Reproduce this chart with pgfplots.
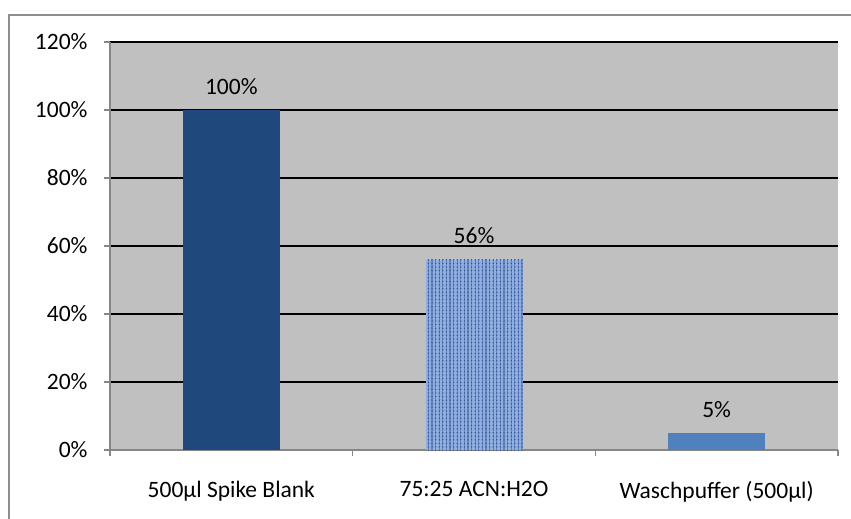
\documentclass[border=0pt]{standalone}
\usepackage{fontspec}
\setmainfont{Carlito}
\usepackage{pgfplots}
\pgfplotsset{compat=1.18}
\usetikzlibrary{patterns,patterns.meta}
\definecolor{bgc}{HTML}{C0C0C0}
\definecolor{barA}{HTML}{1F497D}
\definecolor{barB}{HTML}{8FADDE}
\definecolor{barBm}{HTML}{6686C0}
\definecolor{barBd}{HTML}{2F5592}
\definecolor{barC}{HTML}{4F81BD}
\definecolor{axc}{HTML}{868686}
\definecolor{brd}{HTML}{8E8E8E}
\begin{document}
\begin{tikzpicture}
\path[use as bounding box] (-110pt,-69pt) rectangle (741pt,450pt);
\draw[brd, line width=1.5pt] (-101pt,-90pt) -- (-101pt,435pt) -- (760pt,435pt);
\begin{axis}[
 at={(0pt,0pt)}, anchor=south west,
 scale only axis, width=728pt, height=408pt,
 xmin=-0.5, xmax=2.5, ymin=0, ymax=120,
 enlargelimits=false,
 /pgf/number format/assume math mode=true,
 axis background/.style={fill=bgc},
 axis x line*=bottom, axis y line*=left,
 axis line style={-, draw=axc, line width=1.2pt},
 ymajorgrids, grid style={black, line width=1.2pt},
 ytick={0,20,...,120},
 yticklabels={0\%,20\%,40\%,60\%,80\%,100\%,120\%},
 xtick={-0.5,0.5,1.5,2.5}, xticklabels={},
 extra x ticks={0,1,2},
 extra x tick labels={500µl Spike Blank, 75:25 ACN:H2O, Waschpuffer (500µl)},
 extra x tick style={major tick length=0pt, grid=none},
 tick align=outside, major tick length=6pt,
 tick style={draw=axc, line width=1.2pt},
 ticklabel style={font=\fontsize{23.5}{28}\selectfont, text=black},
 xticklabel style={yshift=-28pt},
 yticklabel style={xshift=-13pt},
 ybar, bar width=97pt, bar shift=0pt,
 nodes near coords={\pgfmathprintnumber{\pgfplotspointmeta}\%},
 every node near coord/.append style={font=\fontsize{23.5}{28}\selectfont, yshift=12pt, text=black},
 clip=false,
]
\addplot[fill=barA, draw=none] coordinates {(0,100)};
\addplot[fill=barB, draw=none,
  postaction={pattern={Lines[angle=90,distance=3.6pt,line width=1.3pt]}, pattern color=barBm},
  postaction={pattern={Dots[distance=3.6pt,radius=0.75pt]}, pattern color=barBd}] coordinates {(1,56)};
\addplot[fill=barC, draw=none] coordinates {(2,5)};
\end{axis}
\end{tikzpicture}
\end{document}
